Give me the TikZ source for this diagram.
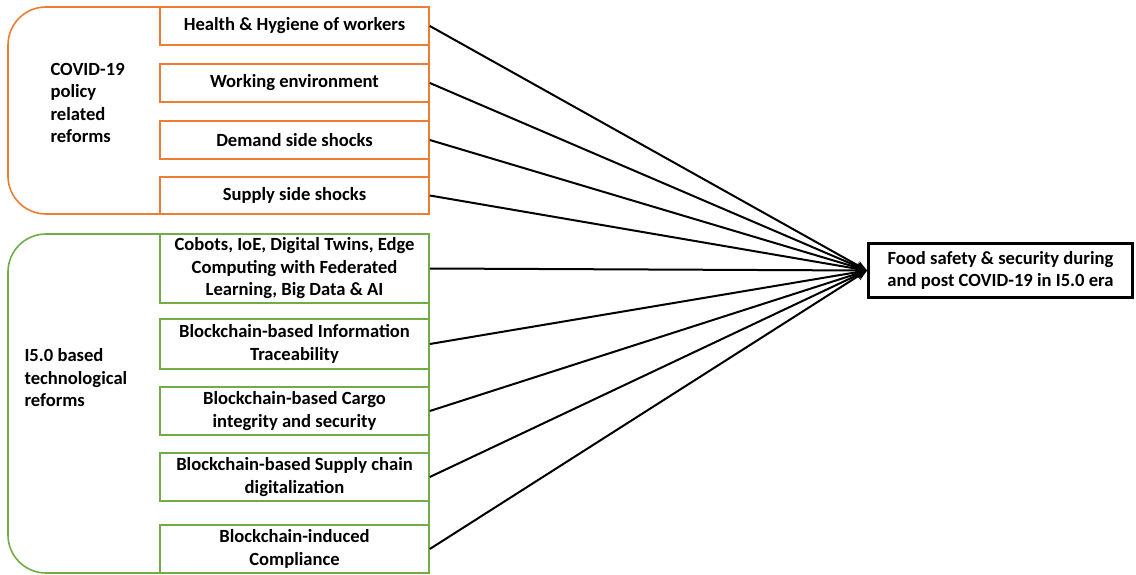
\documentclass[tikz,border=0pt]{standalone}
\usepackage{fontspec}
\setmainfont{Carlito}
\usetikzlibrary{arrows.meta}
\definecolor{orangeC}{HTML}{ED7D31}
\definecolor{greenC}{HTML}{70AD47}
\begin{document}
\begin{tikzpicture}[x=1pt,y=-1pt,
  every node/.style={font=\fontsize{18.6}{22.5}\selectfont\bfseries},
  obox/.style={draw=orangeC,line width=1.6pt,fill=white,minimum width=269pt,align=center,inner sep=0pt},
  gbox/.style={draw=greenC,line width=1.6pt,fill=white,minimum width=269pt,align=center,inner sep=0pt},
  conn/.style={line width=2pt,-{Stealth[length=11pt,width=9pt]}},
  grp/.style={line width=1.6pt,rounded corners=38pt}]
\useasboundingbox (0,0) rectangle (1136,575);
% groups
\draw[grp,draw=orangeC] (429,7) -- (8,7) -- (8,214) -- (429,214);
\draw[line width=1.6pt,draw=orangeC] (429,7) -- (429,214);
\draw[grp,draw=greenC] (429,234) -- (8,234) -- (8,573) -- (429,573);
\draw[line width=1.6pt,draw=greenC] (429,234) -- (429,573);
% labels
\node[anchor=west,align=left] (lc) at (47,103) {COVID-19\\policy\\related\\reforms};
\node[anchor=west,align=left] (li) at (21,378) {I5.0 based\\technological\\reforms};
% orange boxes
\node[obox,minimum height=38pt] (o1) at (294.5,26) {Health \& Hygiene of workers};
\node[obox,minimum height=38pt] (o2) at (294.5,83) {Working environment};
\node[obox,minimum height=38pt] (o3) at (294.5,140) {Demand side shocks};
\node[obox,minimum height=37pt] (o4) at (294.5,195.5) {Supply side shocks};
% green boxes
\node[gbox,minimum height=69pt] (g1) at (294.5,268.5) {Cobots, IoE, Digital Twins, Edge\\Computing with Federated\\Learning, Big Data \& AI};
\node[gbox,minimum height=50pt] (g2) at (294.5,344) {Blockchain-based Information\\Traceability};
\node[gbox,minimum height=48pt] (g3) at (294.5,411) {Blockchain-based Cargo\\integrity and security};
\node[gbox,minimum height=48pt] (g4) at (294.5,477) {Blockchain-based Supply chain\\digitalization};
\node[gbox,minimum height=48pt] (g5) at (294.5,549) {Blockchain-induced\\Compliance};
% target
\node[draw=black,line width=3pt,minimum width=264pt,minimum height=54pt,align=center,inner sep=0pt] (t) at (1000.5,270.5) {Food safety \& security during\\and post COVID-19 in I5.0 era};
% connectors
\foreach \n in {o1,o2,o3,o4,g1,g2,g3,g4,g5}
  \draw[conn] (\n.east) -- (t.west);
\end{tikzpicture}
\end{document}
